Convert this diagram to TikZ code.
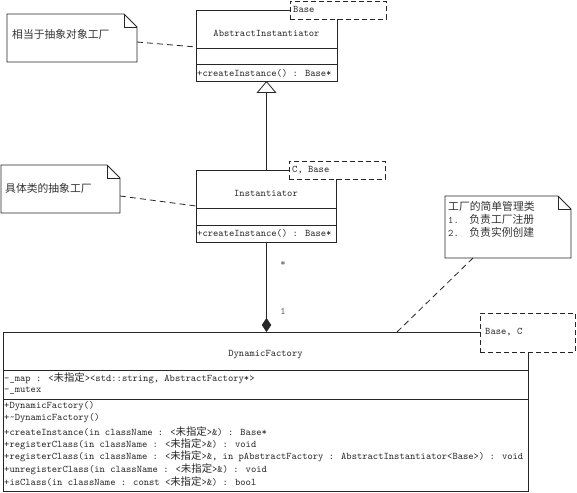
\documentclass[tikz,border=0pt]{standalone}
\usepackage{fontspec}
\newfontfamily\cjkfont{Noto Sans CJK SC}
\usetikzlibrary{arrows.meta}
\newcommand\zhtxt[1]{{\cjkfont\fontsize{10.4}{12}\selectfont #1}}
\newcommand\zhnote[1]{{\cjkfont\fontsize{10.8}{13}\selectfont #1}}
\begin{document}
\begin{tikzpicture}[x=1pt,y=-1pt,
  ln/.style={draw=black!85, line width=0.8pt},
  box/.style={ln, fill=white, anchor=north west, inner sep=0pt, outer sep=0pt},
  tpl/.style={draw=black!85, line width=0.8pt, dash pattern=on 5pt off 3pt, fill=white, anchor=north west, inner sep=0pt, outer sep=0pt},
  txt/.style={anchor=west, inner sep=0pt, font=\ttfamily\fontsize{10.1}{12}\selectfont, text=black!85},
  ctxt/.style={anchor=center, inner sep=0pt, font=\ttfamily\fontsize{10.1}{12}\selectfont, text=black!85},
  ntxt/.style={anchor=west, inner sep=0pt, text=black!80},
  mult/.style={anchor=center, inner sep=0pt, font=\ttfamily\fontsize{10.1}{12}\selectfont, text=black!65},
  notelink/.style={draw=black!85, line width=0.8pt, dash pattern=on 6pt off 4pt},
  area/.style={anchor=north west, inner sep=0pt, outer sep=0pt}]
\useasboundingbox[fill=white] (0,0) rectangle (577,492);

% ---------- AbstractInstantiator ----------
\node[box, minimum width=141pt, minimum height=70.5pt] (ai) at (196,10.5) {};
\draw[ln] (ai.west |- 0,48) -- (ai.east |- 0,48);
\draw[ln] (ai.west |- 0,64.5) -- (ai.east |- 0,64.5);
\node[tpl, minimum width=96pt, minimum height=18pt] (ait) at (290,1) {};
\node[txt] (aitt) at (293,9.5) {Base};
\node[ctxt] (ain) at (266.5,33) {AbstractInstantiator};
\node[txt] (aiop) at (197,73) {+createInstance() : Base*};

% ---------- Instantiator ----------
\node[box, minimum width=140pt, minimum height=72pt] (in) at (196,170) {};
\draw[ln] (in.west |- 0,208) -- (in.east |- 0,208);
\draw[ln] (in.west |- 0,225) -- (in.east |- 0,225);
\node[tpl, minimum width=96pt, minimum height=18pt] (intp) at (289,161) {};
\node[txt] (intt) at (292,170) {C, Base};
\node[ctxt] (inn) at (266,193) {Instantiator};
\node[txt] (inop) at (197,233.5) {+createInstance() : Base*};

% ---------- DynamicFactory ----------
\node[box, minimum width=525pt, minimum height=159pt] (df) at (3,332) {};
\draw[ln] (df.west |- 0,370.5) -- (df.east |- 0,370.5);
\draw[ln] (df.west |- 0,399) -- (df.east |- 0,399);
\node[tpl, minimum width=95pt, minimum height=39pt] (dft) at (480,313) {};
\node[txt] (dftt) at (485,332) {Base, C};
\node[ctxt] (dfn) at (265.5,355) {DynamicFactory};
\node[txt] (dfa1) at (4,378) {-\_map : <\zhtxt{未指定}><std::string, AbstractFactory*>};
\node[txt] (dfa2) at (4,391) {-\_mutex};
\node[txt] (dfo1) at (4,406) {+DynamicFactory()};
\node[txt] (dfo2) at (4,418.6) {+\textasciitilde DynamicFactory()};
\node[txt] (dfo3) at (4,431.2) {+createInstance(in className : <\zhtxt{未指定}>\&) : Base*};
\node[txt] (dfo4) at (4,443.8) {+registerClass(in className : <\zhtxt{未指定}>\&) : void};
\node[txt] (dfo5) at (4,456.4) {+registerClass(in className : <\zhtxt{未指定}>\&, in pAbstractFactory : AbstractInstantiator<Base>) : void};
\node[txt] (dfo6) at (4,469) {+unregisterClass(in className : <\zhtxt{未指定}>\&) : void};
\node[txt] (dfo7) at (4,481.6) {+isClass(in className : const <\zhtxt{未指定}>\&) : bool};

% ---------- connectors ----------
\coordinate (inTop) at (266.5,170);
\coordinate (aiBot) at (266.5,81);
\draw[ln, -{Triangle[open, width=20pt, length=12pt, fill=white]}] (inTop) -- (aiBot);
\coordinate (inBot) at (266.5,242);
\coordinate (dfTop) at (266.5,332);
\draw[ln, -{Diamond[width=9.5pt, length=14pt]}] (inBot) -- (dfTop);
\node[mult] (m1) at (283,264) {*};
\node[mult] (m2) at (283,311) {1};

% ---------- notes ----------
\draw[ln, fill=white] (7,14) -- (124,14) -- (137,27) -- (137,62) -- (7,62) -- cycle;
\draw[ln] (124,14) -- (124,27) -- (137,27);
\node[area, minimum width=130pt, minimum height=48pt] (note1) at (7,14) {};
\node[ntxt] (note1t) at (12,34) {\zhnote{相当于抽象对象工厂}};

\draw[ln, fill=white] (1,165) -- (107,165) -- (120,178) -- (120,213) -- (1,213) -- cycle;
\draw[ln] (107,165) -- (107,178) -- (120,178);
\node[area, minimum width=119pt, minimum height=48pt] (note2) at (1,165) {};
\node[ntxt] (note2t) at (5,188) {\zhnote{具体类的抽象工厂}};

\draw[ln, fill=white] (445,196) -- (558,196) -- (571,209) -- (571,258) -- (445,258) -- cycle;
\draw[ln] (558,196) -- (558,209) -- (571,209);
\node[area, minimum width=126pt, minimum height=62pt] (note3) at (445,196) {};
\node[ntxt] (note3a) at (448,206) {\zhnote{工厂的简单管理类}};
\node[ntxt] (note3b) at (448,219) {\ttfamily\fontsize{10.1}{12}\selectfont 1.\ \ \zhnote{负责工厂注册}};
\node[ntxt] (note3c) at (448,232) {\ttfamily\fontsize{10.1}{12}\selectfont 2.\ \ \zhnote{负责实例创建}};

\coordinate (n1c) at (137,42);
\coordinate (ai1) at (196,47);
\draw[notelink] (n1c) -- (ai1);
\coordinate (n2c) at (120,196);
\coordinate (in1) at (196,206);
\draw[notelink] (n2c) -- (in1);
\coordinate (n3c) at (473,258);
\coordinate (df1) at (397,332);
\draw[notelink] (n3c) -- (df1);
\end{tikzpicture}
\end{document}
